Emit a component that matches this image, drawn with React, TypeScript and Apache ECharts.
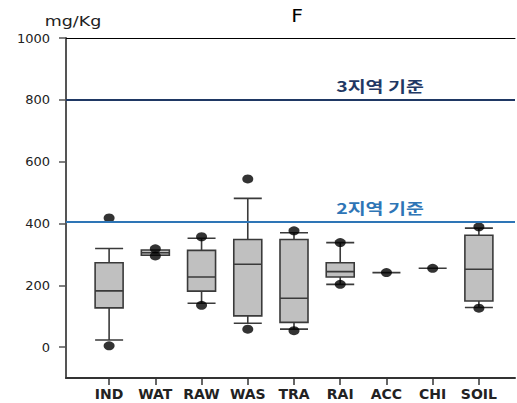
import React, { useEffect, useRef } from "react";
import * as echarts from "echarts";

const categories = ["IND", "WAT", "RAW", "WAS", "TRA", "RAI", "ACC", "CHI", "SOIL"];
const whiskerLow = [23, 297, 142, 77, 58, 203, 241, 255, 128];
const q1 = [127, 297, 181, 101, 80, 227, 241, 255, 149];
const median = [182, 305, 227, 268, 158, 244, 241, 255, 252];
const q3 = [273, 314, 313, 348, 348, 273, 241, 255, 362];
const whiskerHigh = [319, 314, 352, 481, 370, 338, 241, 255, 385];
const outliers: number[][] = [
  [418, 4],
  [318, 295],
  [357, 135],
  [544, 58],
  [376, 53],
  [338, 203],
  [241],
  [255],
  [389, 126],
];
const yTicks = [0, 200, 400, 600, 800, 1000];
const refLines = [
  { value: 800, label: "3지역 기준", color: "#1f3864" },
  { value: 405, label: "2지역 기준", color: "#2e75b6" },
];

export default function App() {
  const ref = useRef<HTMLDivElement>(null);
  useEffect(() => {
    if (!ref.current) return;
    const chart = echarts.init(ref.current, null, { renderer: "svg" });
    const boxData = categories.map((_, i) => [whiskerLow[i], q1[i], median[i], q3[i], whiskerHigh[i]]);
    const outData: any[] = [];
    outliers.forEach((vals, i) => vals.forEach((v) => outData.push([categories[i], v])));
    const top = 38;
    const h = 340;
    const yMin = -100;
    const yMax = 1000;
    const yOf = (v: number) => top + ((yMax - v) / (yMax - yMin)) * h;
    chart.setOption({
      animation: false,
      grid: [
        { left: 66, right: 2, top, height: h },
        { left: 86, width: 416, top, height: h },
      ],
      xAxis: [
        {
          type: "value", gridIndex: 0, min: 0, max: 1,
          axisLine: { show: true, onZero: false, lineStyle: { color: "#333", width: 2 } },
          axisTick: { show: false }, axisLabel: { show: false }, splitLine: { show: false },
        },
        {
          type: "category", gridIndex: 1, data: categories, boundaryGap: true,
          axisLine: { show: false, onZero: false },
          axisTick: { show: true, alignWithLabel: true, interval: 0, length: 7, lineStyle: { color: "#333", width: 1.5 } },
          axisLabel: { interval: 0, fontFamily: "DejaVu Sans", fontWeight: "bold", fontSize: 14, color: "#222", margin: 9 },
        },
        {
          type: "value", gridIndex: 0, min: 0, max: 1, position: "top",
          axisLine: { show: true, onZero: false, lineStyle: { color: "#000", width: 1 } },
          axisTick: { show: false }, axisLabel: { show: false }, splitLine: { show: false },
        },
      ],
      yAxis: [
        {
          type: "value", gridIndex: 0, min: yMin, max: yMax,
          axisLine: { show: true, onZero: false, lineStyle: { color: "#555", width: 2 } },
          axisTick: { show: true, length: 7, customValues: yTicks, lineStyle: { color: "#555", width: 1.5 } },
          axisLabel: {
            customValues: yTicks, formatter: (v: number) => String(v),
            fontFamily: "DejaVu Sans", fontSize: 13, color: "#222", margin: 16,
          },
          splitLine: { show: false },
        },
        { type: "value", gridIndex: 1, min: yMin, max: yMax, show: false },
      ],
      series: [
        {
          type: "line", xAxisIndex: 0, yAxisIndex: 0, data: [], silent: true,
          markLine: {
            symbol: "none", silent: true, label: { show: false },
            data: refLines.map((r) => ({ yAxis: r.value, lineStyle: { color: r.color, width: 2, type: "solid" } })),
          },
        },
        {
          type: "boxplot", xAxisIndex: 1, yAxisIndex: 1, data: boxData, boxWidth: [28, 28],
          itemStyle: { color: "#c0c0c0", borderColor: "#3a3a3a", borderWidth: 1.6 },
        },
        {
          type: "scatter", xAxisIndex: 1, yAxisIndex: 1, data: outData,
          symbol: "circle", symbolSize: [11, 9], itemStyle: { color: "#000" },
        },
      ],
      graphic: [
        {
          type: "text", x: 73, y: 21, scaleX: 1.25,
          style: { text: "mg/Kg", fontFamily: "DejaVu Sans", fontSize: 14, fill: "#222", align: "center", verticalAlign: "middle", textAlign: "center", textVerticalAlign: "middle" },
        },
        {
          type: "text", x: 297, y: 16, scaleX: 1.2,
          style: { text: "F", fontFamily: "DejaVu Sans", fontSize: 17, fill: "#000", align: "center", verticalAlign: "middle", textAlign: "center", textVerticalAlign: "middle" },
        },
        ...refLines.map((r) => ({
          type: "text", x: 380, y: yOf(r.value) - 14, scaleX: 1.3,
          style: { text: r.label, fontFamily: "Noto Sans CJK KR", fontWeight: "bold", fontSize: 15, fill: r.color, align: "center", verticalAlign: "middle", textAlign: "center", textVerticalAlign: "middle" },
        })),
      ],
    });
    return () => chart.dispose();
  }, []);
  return <div ref={ref} style={{ position: "fixed", left: 0, top: 0, width: 517, height: 403, background: "#fff" }} />;
}
